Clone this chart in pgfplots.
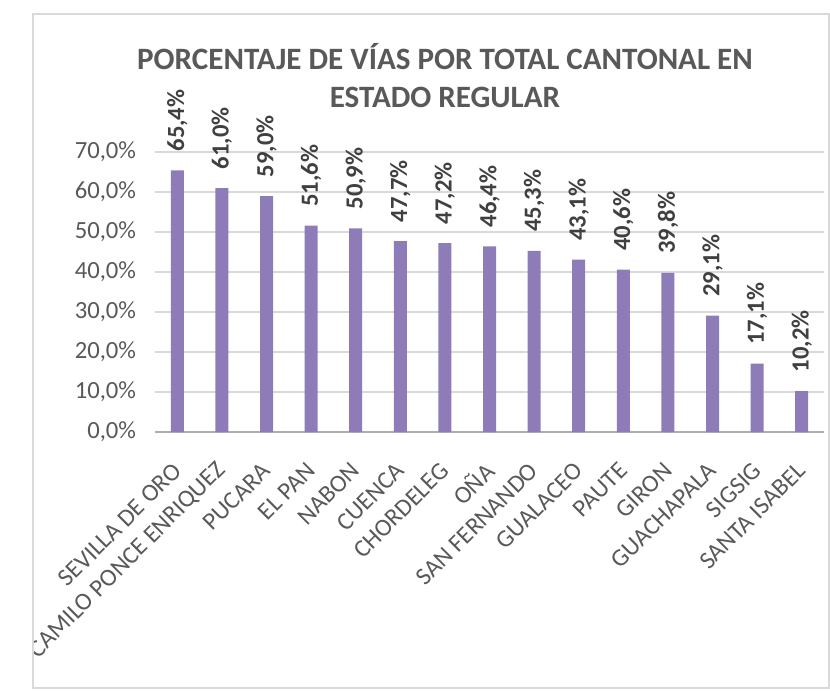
\documentclass[border=0pt]{standalone}
\usepackage{pgfplots}
\pgfplotsset{compat=1.18}
\usepackage{fontspec}
\setmainfont{Carlito}
\definecolor{barcol}{RGB}{142,124,184}
\definecolor{txt}{RGB}{89,89,89}
\definecolor{lbl}{RGB}{64,64,64}
\definecolor{grd}{RGB}{217,217,217}
\begin{document}
\begin{tikzpicture}
\path[use as bounding box] (0pt,0pt) rectangle (622.5pt,-518.25pt);
\begin{axis}[
  at={(116.25pt,-324pt)}, anchor=south west,
  scale only axis, width=501.75pt, height=210pt,
  xmin=-0.5, xmax=14.5, ymin=0, ymax=70,
  ytick={0,10,...,70},
  xtick={0,...,14},
  xticklabels={SEVILLA DE ORO,CAMILO PONCE ENRIQUEZ,PUCARA,EL PAN,NABON,CUENCA,CHORDELEG,OÑA,SAN FERNANDO,GUALACEO,PAUTE,GIRON,GUACHAPALA,SIGSIG,SANTA ISABEL},
  /pgf/number format/assume math mode=true,
  yticklabel={\pgfmathprintnumber[fixed,fixed zerofill,precision=1,use comma]{\tick}\%},
  major tick length=0pt,
  axis lines*=left,
  y axis line style={draw=none},
  x axis line style={draw=grd!80!black, line width=0.8pt},
  ymajorgrids, grid style={grd, line width=0.8pt},
  ticklabel style={font=\fontsize{18.5pt}{22pt}\selectfont, text=txt},
  yticklabel style={anchor=east, inner sep=0pt, xshift=-14pt},
  xticklabel style={yshift=-26pt, rotate=45, anchor=east, inner sep=0pt},
  ybar, bar width=9.75pt,
  nodes near coords={\pgfmathprintnumber[fixed,fixed zerofill,precision=1,use comma]{\pgfplotspointmeta}\%},
  every node near coord/.append style={font=\bfseries\fontsize{18.5pt}{22pt}\selectfont, text=lbl, rotate=90, anchor=west, inner sep=0pt, xshift=14pt},
]
\addplot[fill=barcol, draw=none] coordinates {
  (0,65.4) (1,61.0) (2,59.0) (3,51.6) (4,50.9) (5,47.7) (6,47.2) (7,46.4)
  (8,45.3) (9,43.1) (10,40.6) (11,39.8) (12,29.1) (13,17.1) (14,10.2)
};
\end{axis}
\node[anchor=base, font=\bfseries\fontsize{23.3pt}{28pt}\selectfont, text=txt] at (333.75pt,-52.5pt) {PORCENTAJE DE VÍAS POR TOTAL CANTONAL EN};
\node[anchor=base, font=\bfseries\fontsize{23.3pt}{28pt}\selectfont, text=txt] at (333.75pt,-81pt) {ESTADO REGULAR};
\fill[white] (-80pt,20pt) rectangle (24.75pt,-540pt);
\draw[grd, line width=0.8pt] (24.75pt,-10.5pt) rectangle (621.75pt,-516pt);
\end{tikzpicture}
\end{document}
